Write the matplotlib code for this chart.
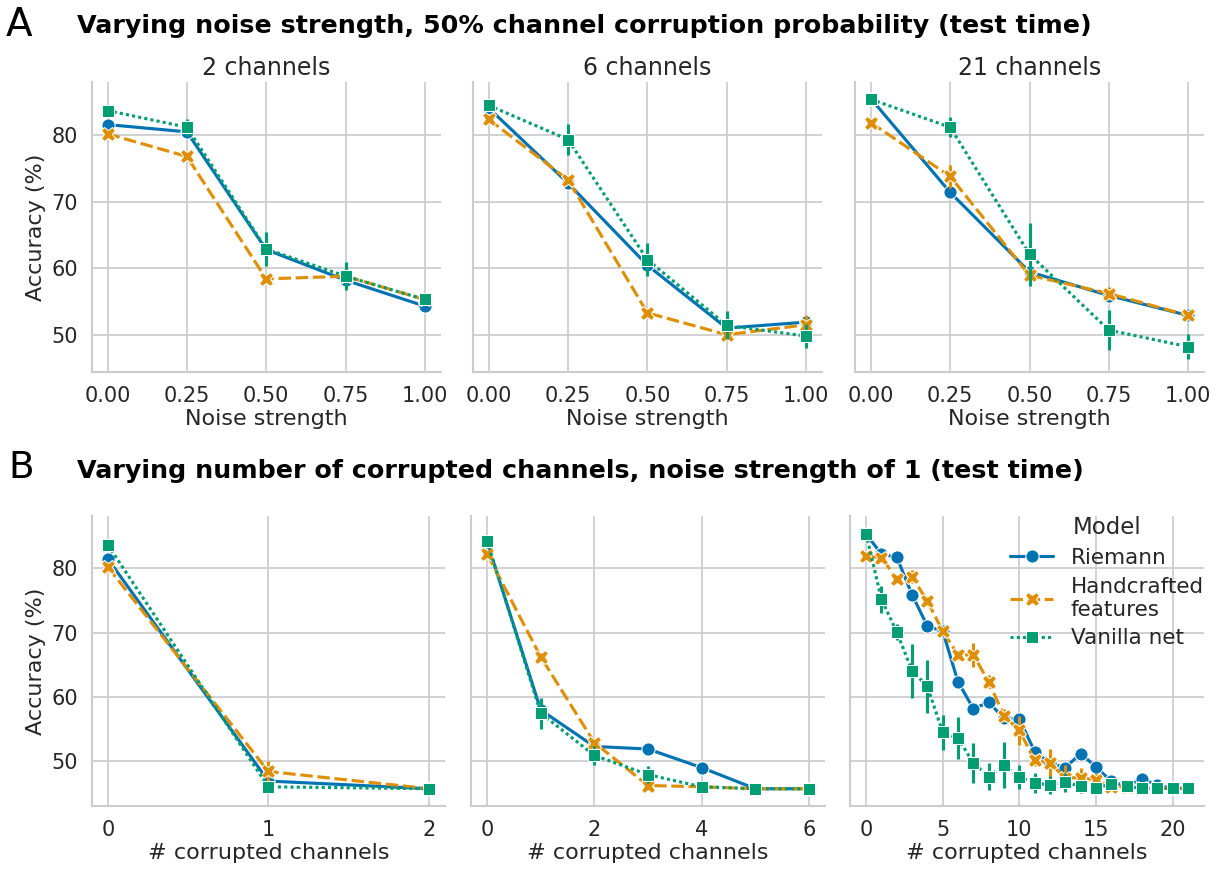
import matplotlib
matplotlib.use("Agg")
import matplotlib.pyplot as plt
import seaborn as sns

# ---- data ----
noise = [0.0, 0.25, 0.5, 0.75, 1.0]
n_channels = [2, 6, 21]
models = ["Riemann", "Handcrafted\nfeatures", "Vanilla net"]

# panel A: accuracy vs noise strength (2, 6, 21 channels)
riem_a = [[81.6, 80.5, 62.8, 58.2, 54.3],
          [84.1, 72.8, 60.45, 51.0, 51.9],
          [85.5, 71.4, 59.45, 55.9, 52.9]]
hand_a = [[80.2, 76.8, 58.4, 58.8, 55.3],
          [82.4, 73.3, 53.3, 50.0, 51.5],
          [81.9, 73.8, 58.95, 56.2, 52.9]]
van_a = [[83.7, 81.2, 62.9, 58.8, 55.3],
         [84.5, 79.35, 61.3, 51.4, 49.8],
         [85.4, 81.2, 62.1, 50.7, 48.2]]
riem_a_err = [[0.3, 0.3, 0.4, 0.6, 0.3],
              [0.3, 0.3, 0.5, 0.4, 0.4],
              [0.3, 0.3, 0.5, 0.5, 0.3]]
hand_a_err = [[0.3, 0.4, 0.4, 0.5, 0.3],
              [0.3, 0.3, 0.3, 0.4, 1.5],
              [0.4, 1.7, 0.8, 1.0, 0.5]]
van_a_err = [[0.3, 1.3, 2.5, 2.1, 0.6],
             [0.4, 2.4, 2.5, 2.1, 1.75],
             [0.3, 1.5, 4.75, 3.0, 1.9]]

# panel B: accuracy vs number of corrupted channels
corrupted = [list(range(3)), list(range(7)), list(range(22))]
riem_b = [[81.5, 46.8, 45.6],
          [84.15, 57.9, 52.2, 51.8, 48.9, 45.6, 45.6],
          [85.45, 82.2, 81.8, 75.9, 71.0, 70.2, 62.3, 58.1, 59.1, 56.6, 56.5,
           51.4, 49.6, 48.9, 51.1, 49.0, 46.75, 46.0, 47.1, 46.2, 45.65, 45.65]]
hand_b = [[80.25, 48.3, 45.6],
          [82.3, 66.2, 52.8, 46.1, 45.9, 45.6, 45.6],
          [81.9, 81.7, 78.4, 78.7, 74.9, 70.2, 66.5, 66.5, 62.3, 57.0, 54.7,
           50.1, 49.6, 47.3, 47.3, 47.0, 45.9, 45.9, 45.65, 45.65, 45.65, 45.65]]
van_b = [[83.7, 45.9, 45.6],
         [84.3, 57.4, 50.8, 47.8, 45.9, 45.6, 45.6],
         [85.45, 75.2, 70.1, 64.0, 61.6, 54.4, 53.5, 49.6, 47.5, 49.25, 47.4,
          46.5, 46.2, 46.6, 46.0, 45.7, 46.3, 46.0, 45.65, 45.65, 45.65, 45.65]]
riem_b_err = [[0.3, 0.4, 0.1],
              [0.3, 0.5, 0.4, 0.4, 0.4, 0.1, 0.1],
              [0.3, 0.4, 0.4, 0.5, 0.5, 0.5, 0.5, 0.5, 0.5, 0.5, 0.5,
               0.5, 0.5, 0.5, 0.5, 0.5, 0.4, 0.3, 0.3, 0.2, 0.1, 0.1]]
hand_b_err = [[0.3, 1.7, 0.1],
              [0.3, 0.4, 0.5, 0.4, 0.3, 0.1, 0.1],
              [0.3, 0.5, 0.6, 1.0, 0.8, 0.6, 0.8, 1.9, 1.0, 1.0, 2.3,
               1.0, 2.2, 2.0, 1.5, 1.0, 0.6, 0.4, 0.2, 0.2, 0.2, 0.2]]
van_b_err = [[0.3, 0.4, 0.1],
             [0.4, 2.4, 1.5, 1.3, 0.3, 0.1, 0.1],
             [0.3, 2.1, 1.3, 4.2, 4.15, 2.7, 3.3, 3.1, 2.1, 3.6, 1.9,
              1.5, 1.4, 1.5, 1.0, 0.6, 0.6, 0.4, 0.3, 0.2, 0.2, 0.2]]

sns.set_theme(style="whitegrid")
plt.rcParams["font.family"] = ["DejaVu Sans"]

colors = sns.color_palette("colorblind")[:3]
markers = ["o", "X", "s"]
msizes = [9.5, 10.5, 8.5]
dashes = [(None, None), (4, 1.5), (1, 1)]
LW = 2.25

W, H = 1225, 871
fig = plt.figure(figsize=(W / 100, H / 100), dpi=100)


def px_rect(x0, y0, x1, y1):
    return [x0 / W, 1 - y1 / H, (x1 - x0) / W, (y1 - y0) / H]


def draw(ax, x, series, errors):
    handles = []
    for i, (y, e) in enumerate(zip(series, errors)):
        ax.vlines(x, [a - b for a, b in zip(y, e)], [a + b for a, b in zip(y, e)],
                  color=colors[i], lw=LW, zorder=2 + i)
        kw = dict(color=colors[i], lw=LW, marker=markers[i], markersize=msizes[i],
                  mec="white", mew=0.75, zorder=3 + i)
        if dashes[i][0] is not None:
            kw["dashes"] = dashes[i]
        h, = ax.plot(x, y, **kw)
        handles.append(h)
    return handles


def style(ax, left):
    ax.tick_params(labelsize=15, colors=".15", pad=4)
    for s in ["top", "right"]:
        ax.spines[s].set_visible(False)
    for s in ["left", "bottom"]:
        ax.spines[s].set_color("#cccccc")
        ax.spines[s].set_linewidth(1.5)
    ax.grid(color="#cccccc", lw=1.25)
    ax.set_yticks([50, 60, 70, 80])
    if left:
        ax.set_ylabel("Accuracy (%)", fontsize=16, color=".15")
    else:
        ax.tick_params(labelleft=False)


# top row
top_x = [(91.7, 440.7), (472.7, 822), (855, 1204)]
for k in range(3):
    ax = fig.add_axes(px_rect(top_x[k][0], 82, top_x[k][1], 372))
    draw(ax, noise, [riem_a[k], hand_a[k], van_a[k]],
         [riem_a_err[k], hand_a_err[k], van_a_err[k]])
    ax.set_xlim(-0.05, 1.05)
    ax.set_ylim(44.4, 88.0)
    ax.set_xticks(noise)
    ax.set_xticklabels([f"{v:.2f}" for v in noise])
    style(ax, k == 0)
    ax.set_xlabel("Noise strength", fontsize=16, color=".15", labelpad=2)
    ax.set_title(f"{n_channels[k]} channels", fontsize=17, color=".15", pad=5)

# bottom row
bot_x = [(91.7, 445), (471, 825), (850, 1204)]
bot_ticks = [[0, 1, 2], [0, 2, 4, 6], [0, 5, 10, 15, 20]]
for k in range(3):
    ax = fig.add_axes(px_rect(bot_x[k][0], 516, bot_x[k][1], 806))
    handles = draw(ax, corrupted[k], [riem_b[k], hand_b[k], van_b[k]],
                   [riem_b_err[k], hand_b_err[k], van_b_err[k]])
    n = corrupted[k][-1]
    ax.set_xlim(-0.05 * n, 1.05 * n)
    ax.set_ylim(42.9, 88.2)
    ax.set_xticks(bot_ticks[k])
    style(ax, k == 0)
    ax.set_xlabel("# corrupted channels", fontsize=16, color=".15", labelpad=2)

leg = fig.legend(handles, models, loc="upper left",
                 bbox_to_anchor=(991 / W, 1 - 497 / H), frameon=False,
                 fontsize=15.5, title="Model", title_fontsize=16.5,
                 handlelength=2, handletextpad=0.8, labelspacing=0.4)
for t in leg.get_texts():
    t.set_color(".15")
leg.get_title().set_color(".15")

# panel letters and section titles
fig.text(6 / W, 1 - 36 / H, "A", fontsize=28, color="black",
         ha="left", va="baseline")
fig.text(77 / W, 1 - 33 / H,
         "Varying noise strength, 50% channel corruption probability (test time)",
         fontsize=18.3, fontweight="bold", color="black", ha="left", va="baseline")
fig.text(8 / W, 1 - 478 / H, "B", fontsize=27, color="black",
         ha="left", va="baseline")
fig.text(77 / W, 1 - 478 / H,
         "Varying number of corrupted channels, noise strength of 1 (test time)",
         fontsize=18.3, fontweight="bold", color="black", ha="left", va="baseline")

fig.savefig("out.png", dpi=100)
